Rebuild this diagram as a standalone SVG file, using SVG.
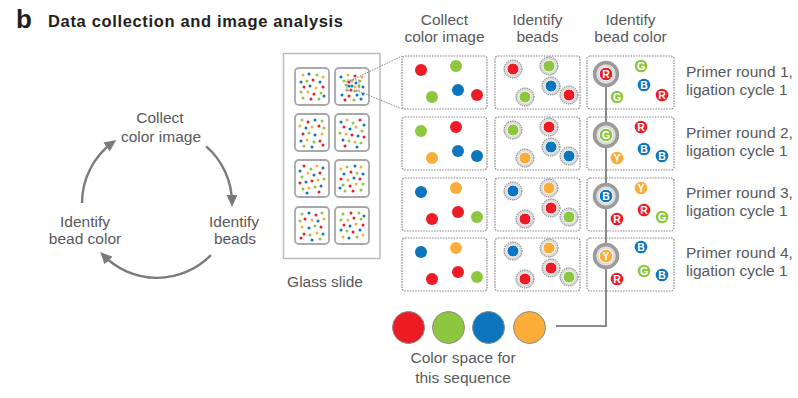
<svg xmlns="http://www.w3.org/2000/svg" xmlns:xlink="http://www.w3.org/1999/xlink" width="798" height="398" viewBox="0 0 798 398">
<style>
text{font-family:"Liberation Sans",Arial,sans-serif;fill:#58595b;font-size:15.5px}
.title{font-weight:bold;fill:#231f20}
.mid{text-anchor:middle}
.box{fill:none;stroke:#8a8a8a;stroke-width:1.2;stroke-dasharray:1.6 1.1}
.r{fill:#ed1c24}.g{fill:#8dc63f}.b{fill:#0b75bd}.o{fill:#fbad3a}
.halo{fill:#dadada;stroke:#5e5e5e;stroke-width:0.9;stroke-dasharray:1.3 1}
.bd{stroke:#fff;stroke-width:1}
.ring{fill:#dcdcdc;stroke:#9b9b9b;stroke-width:3.5}
.lt{fill:#fff;font-weight:bold;font-size:10.5px;text-anchor:middle}
.arc{fill:none;stroke:#7a7a7a;stroke-width:2.4}
.chain{fill:none;stroke:#8a8a8a;stroke-width:2}
.zl{fill:none;stroke:#8a8a8a;stroke-width:1;stroke-dasharray:1.6 1.1}
.tile{fill:#fff;stroke:#a8a8a8;stroke-width:1.8}
.sw{stroke:#8a8a8a;stroke-width:1}
.dots circle{r:1.5px}
</style>
<defs>
<marker id="ah" markerUnits="userSpaceOnUse" markerWidth="12" markerHeight="11" viewBox="0 0 12 11" refX="8" refY="5.5" orient="auto">
<path d="M0,0 L12,5.5 L0,11 z" fill="#7a7a7a"/>
</marker>
<g id="p1" class="dots">
<circle cx="8" cy="7" r="1.5" class="o"/><circle cx="14" cy="6" r="1.5" class="b"/><circle cx="22" cy="7" r="1.5" class="g"/><circle cx="28" cy="9" r="1.5" class="o"/><circle cx="6" cy="14" r="1.5" class="b"/><circle cx="12" cy="13" r="1.5" class="g"/><circle cx="18" cy="12" r="1.5" class="r"/><circle cx="25" cy="14" r="1.5" class="b"/><circle cx="9" cy="19" r="1.5" class="r"/><circle cx="15" cy="18" r="1.5" class="b"/><circle cx="21" cy="20" r="1.5" class="o"/><circle cx="28" cy="19" r="1.5" class="r"/><circle cx="6" cy="24" r="1.5" class="g"/><circle cx="13" cy="24" r="1.5" class="o"/><circle cx="19" cy="26" r="1.5" class="r"/><circle cx="26" cy="25" r="1.5" class="g"/><circle cx="8" cy="30" r="1.5" class="g"/><circle cx="16" cy="31" r="1.5" class="r"/><circle cx="24" cy="31" r="1.5" class="g"/><circle cx="29" cy="28" r="1.5" class="b"/>
</g>
<g id="p2" class="dots">
<circle cx="7" cy="6" r="1.5" class="g"/><circle cx="13" cy="8" r="1.5" class="r"/><circle cx="20" cy="6" r="1.5" class="b"/><circle cx="27" cy="7" r="1.5" class="g"/><circle cx="5" cy="12" r="1.5" class="o"/><circle cx="11" cy="14" r="1.5" class="b"/><circle cx="17" cy="13" r="1.5" class="o"/><circle cx="24" cy="12" r="1.5" class="r"/><circle cx="29" cy="14" r="1.5" class="g"/><circle cx="8" cy="20" r="1.5" class="r"/><circle cx="14" cy="19" r="1.5" class="g"/><circle cx="20" cy="21" r="1.5" class="b"/><circle cx="27" cy="20" r="1.5" class="o"/><circle cx="6" cy="27" r="1.5" class="b"/><circle cx="12" cy="26" r="1.5" class="o"/><circle cx="19" cy="28" r="1.5" class="g"/><circle cx="25" cy="27" r="1.5" class="r"/><circle cx="9" cy="32" r="1.5" class="g"/><circle cx="17" cy="33" r="1.5" class="b"/><circle cx="28" cy="31" r="1.5" class="r"/>
</g>
<g id="p3" class="dots">
<circle cx="6" cy="8" r="1.5" class="b"/><circle cx="12" cy="6" r="1.5" class="o"/><circle cx="18" cy="9" r="1.5" class="g"/><circle cx="25" cy="6" r="1.5" class="r"/><circle cx="29" cy="11" r="1.5" class="b"/><circle cx="9" cy="13" r="1.5" class="r"/><circle cx="15" cy="15" r="1.5" class="b"/><circle cx="21" cy="13" r="1.5" class="o"/><circle cx="27" cy="17" r="1.5" class="g"/><circle cx="5" cy="19" r="1.5" class="g"/><circle cx="11" cy="20" r="1.5" class="o"/><circle cx="17" cy="21" r="1.5" class="r"/><circle cx="23" cy="22" r="1.5" class="b"/><circle cx="29" cy="23" r="1.5" class="r"/><circle cx="8" cy="26" r="1.5" class="b"/><circle cx="14" cy="27" r="1.5" class="g"/><circle cx="20" cy="28" r="1.5" class="o"/><circle cx="26" cy="29" r="1.5" class="g"/><circle cx="10" cy="32" r="1.5" class="r"/><circle cx="22" cy="33" r="1.5" class="b"/>
</g>
<g id="p4" class="dots">
<circle cx="6" cy="9" r="1.5" class="b"/><circle cx="13" cy="7" r="1.5" class="o"/><circle cx="20" cy="8" r="1.5" class="r"/><circle cx="27" cy="9" r="1.5" class="o"/><circle cx="9" cy="13" r="1.5" class="g"/><circle cx="14" cy="14" r="1.5" class="r"/><circle cx="17" cy="13" r="1.5" class="o"/><circle cx="21" cy="15" r="1.5" class="b"/><circle cx="25" cy="13" r="1.5" class="g"/><circle cx="11" cy="17" r="1.5" class="g"/><circle cx="14" cy="18" r="1.5" class="b"/><circle cx="17" cy="18" r="1.5" class="b"/><circle cx="20" cy="19" r="1.5" class="o"/><circle cx="24" cy="18" r="1.5" class="g"/><circle cx="28" cy="19" r="1.5" class="b"/><circle cx="12" cy="22" r="1.5" class="g"/><circle cx="16" cy="22" r="1.5" class="r"/><circle cx="20" cy="23" r="1.5" class="g"/><circle cx="7" cy="27" r="1.5" class="b"/><circle cx="14" cy="28" r="1.5" class="r"/><circle cx="22" cy="27" r="1.5" class="b"/><circle cx="28" cy="26" r="1.5" class="b"/><circle cx="10" cy="32" r="1.5" class="r"/><circle cx="19" cy="32" r="1.5" class="g"/><circle cx="26" cy="31" r="1.5" class="b"/>
</g>
</defs>

<rect width="798" height="398" fill="#fff"/>

<g id="title">
<text x="16" y="28" class="title" style="font-size:26px">b</text>
<text x="48" y="27" class="title" style="font-size:16.5px" textLength="295">Data collection and image analysis</text>
</g>

<g id="cycle-collect"><text x="160" y="123" class="mid">Collect</text><text x="161" y="141.5" class="mid">color image</text></g>
<g id="cycle-beads"><text x="234" y="226.5" class="mid">Identify</text><text x="235" y="244" class="mid">beads</text></g>
<g id="cycle-color"><text x="85" y="226.5" class="mid">Identify</text><text x="85" y="244" class="mid">bead color</text></g>

<g id="header-collect"><text x="444.5" y="24.5" class="mid">Collect</text><text x="444.5" y="41.5" class="mid">color image</text></g>
<g id="header-beads"><text x="537.5" y="24.5" class="mid">Identify</text><text x="537.5" y="41.5" class="mid">beads</text></g>
<g id="header-color"><text x="630.5" y="24.5" class="mid">Identify</text><text x="630.5" y="41.5" class="mid">bead color</text></g>

<g id="glass-slide">
<rect x="283.5" y="53.5" width="96.5" height="205" fill="#fff" stroke="#bdbdbd" stroke-width="1.5"/>
<rect x="295" y="68" width="34" height="37" rx="4" class="tile"/><use xlink:href="#p1" x="295" y="68"/>
<rect x="335" y="68" width="34" height="37" rx="4" class="tile"/><use xlink:href="#p4" x="335" y="68"/>
<rect x="295" y="114" width="34" height="37" rx="4" class="tile"/><use xlink:href="#p2" x="295" y="114"/>
<rect x="335" y="114" width="34" height="37" rx="4" class="tile"/><use xlink:href="#p3" x="335" y="114"/>
<rect x="295" y="160" width="34" height="37" rx="4" class="tile"/><use xlink:href="#p3" transform="translate(329,160) scale(-1,1)"/>
<rect x="335" y="160" width="34" height="37" rx="4" class="tile"/><use xlink:href="#p1" transform="translate(369,160) scale(-1,1)"/>
<rect x="295" y="207" width="34" height="37" rx="4" class="tile"/><use xlink:href="#p2" transform="translate(329,207) scale(-1,1)"/>
<rect x="335" y="207" width="34" height="37" rx="4" class="tile"/><use xlink:href="#p1" transform="translate(335,244) scale(1,-1)"/>
<rect x="347" y="80" width="12" height="11" class="zl"/>
<text x="325" y="287" class="mid">Glass slide</text>
</g>

<g id="collect-1"><rect x="402" y="56" width="85" height="53" rx="3" class="box"/>
<circle cx="421" cy="70" r="6" class="r"/><circle cx="456" cy="66" r="6" class="g"/><circle cx="432" cy="97" r="6" class="g"/><circle cx="458" cy="90" r="6" class="b"/><circle cx="477" cy="95" r="6" class="r"/></g>
<g id="collect-2"><rect x="402" y="117" width="85" height="53" rx="3" class="box"/>
<circle cx="421" cy="131" r="6" class="g"/><circle cx="456" cy="127" r="6" class="r"/><circle cx="432" cy="158" r="6" class="o"/><circle cx="458" cy="151" r="6" class="b"/><circle cx="477" cy="156" r="6" class="b"/></g>
<g id="collect-3"><rect x="402" y="178" width="85" height="53" rx="3" class="box"/>
<circle cx="421" cy="192" r="6" class="b"/><circle cx="456" cy="188" r="6" class="o"/><circle cx="432" cy="219" r="6" class="r"/><circle cx="458" cy="212" r="6" class="r"/><circle cx="477" cy="217" r="6" class="g"/></g>
<g id="collect-4"><rect x="402" y="238" width="85" height="53" rx="3" class="box"/>
<circle cx="421" cy="252" r="6" class="b"/><circle cx="456" cy="248" r="6" class="o"/><circle cx="432" cy="279" r="6" class="r"/><circle cx="458" cy="272" r="6" class="r"/><circle cx="477" cy="277" r="6" class="g"/></g>

<g id="beads-1"><rect x="495" y="56" width="85" height="53" rx="3" class="box"/>
<circle cx="513" cy="69" r="9" class="halo"/><circle cx="513" cy="69" r="6" class="r bd"/>
<circle cx="549" cy="66" r="9" class="halo"/><circle cx="549" cy="66" r="6" class="g bd"/>
<circle cx="525" cy="97" r="9" class="halo"/><circle cx="525" cy="97" r="6" class="g bd"/>
<circle cx="551" cy="86" r="9" class="halo"/><circle cx="551" cy="86" r="6" class="b bd"/>
<circle cx="569" cy="95" r="9" class="halo"/><circle cx="569" cy="95" r="6" class="r bd"/></g>
<g id="beads-2"><rect x="495" y="117" width="85" height="53" rx="3" class="box"/>
<circle cx="513" cy="130" r="9" class="halo"/><circle cx="513" cy="130" r="6" class="g bd"/>
<circle cx="549" cy="127" r="9" class="halo"/><circle cx="549" cy="127" r="6" class="r bd"/>
<circle cx="525" cy="158" r="9" class="halo"/><circle cx="525" cy="158" r="6" class="o bd"/>
<circle cx="551" cy="147" r="9" class="halo"/><circle cx="551" cy="147" r="6" class="b bd"/>
<circle cx="569" cy="156" r="9" class="halo"/><circle cx="569" cy="156" r="6" class="b bd"/></g>
<g id="beads-3"><rect x="495" y="178" width="85" height="53" rx="3" class="box"/>
<circle cx="513" cy="191" r="9" class="halo"/><circle cx="513" cy="191" r="6" class="b bd"/>
<circle cx="549" cy="188" r="9" class="halo"/><circle cx="549" cy="188" r="6" class="o bd"/>
<circle cx="525" cy="219" r="9" class="halo"/><circle cx="525" cy="219" r="6" class="r bd"/>
<circle cx="551" cy="208" r="9" class="halo"/><circle cx="551" cy="208" r="6" class="r bd"/>
<circle cx="569" cy="217" r="9" class="halo"/><circle cx="569" cy="217" r="6" class="g bd"/></g>
<g id="beads-4"><rect x="495" y="238" width="85" height="53" rx="3" class="box"/>
<circle cx="513" cy="251" r="9" class="halo"/><circle cx="513" cy="251" r="6" class="b bd"/>
<circle cx="549" cy="248" r="9" class="halo"/><circle cx="549" cy="248" r="6" class="o bd"/>
<circle cx="525" cy="279" r="9" class="halo"/><circle cx="525" cy="279" r="6" class="r bd"/>
<circle cx="551" cy="268" r="9" class="halo"/><circle cx="551" cy="268" r="6" class="r bd"/>
<circle cx="569" cy="277" r="9" class="halo"/><circle cx="569" cy="277" r="6" class="g bd"/></g>

<g id="connectors">
<path d="M206.2,146.4 A75,75 0 0 1 232,203" class="arc" marker-end="url(#ah)"/>
<path d="M210.9,255.1 A75,75 0 0 1 103,254.8" class="arc" marker-end="url(#ah)"/>
<path d="M82,203 A75,75 0 0 1 113,142.3" class="arc" marker-end="url(#ah)"/>
<path d="M350,81 L402,56" class="zl"/>
<path d="M356,90 L402,109" class="zl"/>
<path d="M606,74 L606,326 L556,326" class="chain"/>
</g>

<g id="color-1"><rect x="587" y="56" width="87" height="53" rx="3" class="box"/>
<circle cx="606" cy="74" r="11.5" class="ring"/><circle cx="606" cy="74" r="6.8" class="r bd"/><text x="606" y="77.7" class="lt">R</text>
<circle cx="641" cy="66" r="6.3" class="g"/><text x="641" y="69.7" class="lt">G</text>
<circle cx="617" cy="97" r="6.3" class="g"/><text x="617" y="100.7" class="lt">G</text>
<circle cx="644" cy="85" r="6.3" class="b"/><text x="644" y="88.7" class="lt">B</text>
<circle cx="662" cy="95" r="6.3" class="r"/><text x="662" y="98.7" class="lt">R</text></g>
<g id="color-2"><rect x="587" y="117" width="87" height="53" rx="3" class="box"/>
<circle cx="606" cy="135" r="11.5" class="ring"/><circle cx="606" cy="135" r="6.8" class="g bd"/><text x="606" y="138.7" class="lt">G</text>
<circle cx="641" cy="127" r="6.3" class="r"/><text x="641" y="130.7" class="lt">R</text>
<circle cx="617" cy="158" r="6.3" class="o"/><text x="617" y="161.7" class="lt">Y</text>
<circle cx="644" cy="149" r="6.3" class="b"/><text x="644" y="152.7" class="lt">B</text>
<circle cx="662" cy="156" r="6.3" class="b"/><text x="662" y="159.7" class="lt">B</text></g>
<g id="color-3"><rect x="587" y="178" width="87" height="53" rx="3" class="box"/>
<circle cx="606" cy="196" r="11.5" class="ring"/><circle cx="606" cy="196" r="6.8" class="b bd"/><text x="606" y="199.7" class="lt">B</text>
<circle cx="641" cy="188" r="6.3" class="o"/><text x="641" y="191.7" class="lt">Y</text>
<circle cx="617" cy="219" r="6.3" class="r"/><text x="617" y="222.7" class="lt">R</text>
<circle cx="644" cy="210" r="6.3" class="r"/><text x="644" y="213.7" class="lt">R</text>
<circle cx="662" cy="217" r="6.3" class="g"/><text x="662" y="220.7" class="lt">G</text></g>
<g id="color-4"><rect x="587" y="238" width="87" height="53" rx="3" class="box"/>
<circle cx="606" cy="256" r="11.5" class="ring"/><circle cx="606" cy="256" r="6.8" class="o bd"/><text x="606" y="259.7" class="lt">Y</text>
<circle cx="641" cy="247" r="6.3" class="b"/><text x="641" y="250.7" class="lt">B</text>
<circle cx="617" cy="279" r="6.3" class="r"/><text x="617" y="282.7" class="lt">R</text>
<circle cx="644" cy="271" r="6.3" class="g"/><text x="644" y="274.7" class="lt">G</text>
<circle cx="662" cy="275" r="6.3" class="b"/><text x="662" y="278.7" class="lt">B</text></g>

<g id="label-1"><text x="686" y="77">Primer round 1,</text><text x="686" y="95">ligation cycle 1</text></g>
<g id="label-2"><text x="686" y="137.5">Primer round 2,</text><text x="686" y="155.5">ligation cycle 1</text></g>
<g id="label-3"><text x="686" y="197.5">Primer round 3,</text><text x="686" y="215.5">ligation cycle 1</text></g>
<g id="label-4"><text x="686" y="257.5">Primer round 4,</text><text x="686" y="275.5">ligation cycle 1</text></g>

<g id="color-space">
<circle cx="408.5" cy="327.5" r="16" class="r sw"/>
<circle cx="448.5" cy="327.5" r="16" class="g sw"/>
<circle cx="488.5" cy="327.5" r="16" class="b sw"/>
<circle cx="529.5" cy="327.5" r="16" class="o sw"/>
<text x="463" y="363" class="mid">Color space for</text>
<text x="463" y="383" class="mid">this sequence</text>
</g>
</svg>
